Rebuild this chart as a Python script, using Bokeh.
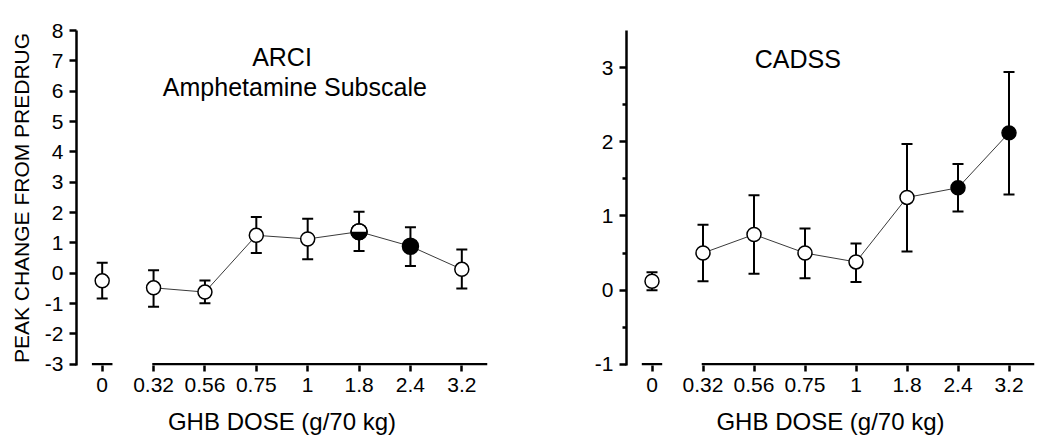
import numpy as np
from bokeh.plotting import figure
from bokeh.models import Range1d, FixedTicker
from bokeh.layouts import row
from bokeh.embed import file_html
from bokeh.resources import INLINE
from bokeh.core.properties import value

# ---------------- data ----------------
doses = ["0", "0.32", "0.56", "0.75", "1", "1.8", "2.4", "3.2"]

arci_mean = [-0.25, -0.48, -0.62, 1.25, 1.13, 1.37, 0.89, 0.13]
arci_upper = [0.35, 0.10, -0.24, 1.85, 1.80, 2.03, 1.52, 0.78]
arci_lower = [-0.83, -1.10, -0.99, 0.67, 0.46, 0.73, 0.24, -0.50]
arci_kind = ["open", "open", "open", "open", "open", "half", "filled", "open"]

cadss_mean = [0.12, 0.50, 0.75, 0.50, 0.38, 1.25, 1.38, 2.12]
cadss_upper = [0.24, 0.88, 1.28, 0.83, 0.63, 1.97, 1.70, 2.94]
cadss_lower = [0.00, 0.12, 0.22, 0.16, 0.11, 0.52, 1.06, 1.29]
cadss_kind = ["open", "open", "open", "open", "open", "open", "filled", "filled"]

arci_yticks = [-3, -2, -1, 0, 1, 2, 3, 4, 5, 6, 7, 8]
cadss_yticks = [-1, 0, 1, 2, 3]
cadss_yminor = [-0.5, 0.5, 1.5, 2.5]

y_label = "PEAK CHANGE FROM PREDRUG"
x_label = "GHB DOSE (g/70 kg)"

FONT = "Liberation Sans"


def make_panel(mean, upper, lower, kind, y0, y1, yticks, yminor, width,
               b_left, b_right, ylab, titles, big):
    p = figure(width=width, height=445,
               x_range=Range1d(-0.5, 7.5), y_range=Range1d(y0, y1),
               output_backend="svg", toolbar_location=None,
               min_border_left=b_left, min_border_right=b_right,
               min_border_top=30, min_border_bottom=80)
    p.outline_line_color = None
    p.grid.visible = False
    p.background_fill_color = "white"
    p.border_fill_color = "white"

    xs = list(range(len(doses)))
    ybase = yticks[0]

    # x axis: labels and ticks from bokeh, broken line drawn as segments
    xa = p.xaxis[0]
    xa.ticker = FixedTicker(ticks=xs)
    xa.major_label_overrides = {i: d for i, d in enumerate(doses)}
    xa.axis_line_color = None
    xa.major_tick_in = 0
    xa.major_tick_out = 6
    xa.major_tick_line_width = 2.5
    xa.minor_tick_line_color = None
    xa.major_label_standoff = 6
    xa.major_label_text_font = FONT
    xa.major_label_text_font_size = "21px"
    xa.major_label_text_color = "black"
    xa.axis_label = x_label
    xa.axis_label_text_font = FONT
    xa.axis_label_text_font_size = "24px"
    xa.axis_label_text_font_style = "normal"
    xa.axis_label_text_color = "black"
    xa.axis_label_standoff = 13
    p.segment(x0=[-0.2, 0.975], y0=[ybase, ybase], x1=[0.2, 7.5], y1=[ybase, ybase],
              line_color="black", line_width=2.5)

    ya = p.yaxis[0]
    ya.ticker = FixedTicker(ticks=yticks, minor_ticks=yminor)
    ya.major_label_overrides = {t: str(t) for t in yticks}
    ya.axis_line_width = 2.5
    ya.axis_line_color = "black"
    ya.major_tick_in = 0
    ya.major_tick_out = 7
    ya.major_tick_line_width = 2.5
    ya.minor_tick_in = 0
    ya.minor_tick_out = 4
    ya.minor_tick_line_width = 2.5
    if not yminor:
        ya.minor_tick_line_color = None
    ya.major_label_standoff = 6
    ya.major_label_text_font = FONT
    ya.major_label_text_font_size = "21px"
    ya.major_label_text_color = "black"
    if ylab:
        ya.axis_label = ylab
        ya.axis_label_text_font = FONT
        ya.axis_label_text_font_size = "21px"
        ya.axis_label_text_font_style = "normal"
        ya.axis_label_text_color = "black"
        ya.axis_label_standoff = 9

    # connecting line (doses > 0)
    p.line(xs[1:], mean[1:], line_color="#3a3a3a", line_width=1)

    # error bars
    p.segment(x0=xs, y0=lower, x1=xs, y1=upper, line_color="black", line_width=2)
    p.scatter(xs, upper, marker="dash", size=11, line_color="black", line_width=2)
    p.scatter(xs, lower, marker="dash", size=11, line_color="black", line_width=2)

    # markers
    ox = [x for x, k in zip(xs, kind) if k == "open"]
    oy = [m for m, k in zip(mean, kind) if k == "open"]
    fx = [x for x, k in zip(xs, kind) if k == "filled"]
    fy = [m for m, k in zip(mean, kind) if k == "filled"]
    hx = [x for x, k in zip(xs, kind) if k == "half"]
    hy = [m for m, k in zip(mean, kind) if k == "half"]
    p.scatter(ox, oy, size=14, fill_color="white", line_color="black", line_width=1.5)
    if fx:
        p.scatter(fx, fy, size=big, fill_color="black", line_color="black", line_width=1.5)
    if hx:
        p.scatter(hx, hy, size=big, fill_color="white", line_color="black", line_width=1.5)
        p.wedge(hx, hy, radius=big / 2, radius_units="screen",
                start_angle=np.pi, end_angle=2 * np.pi, direction="anticlock",
                fill_color="black", line_color=None)
        p.scatter(hx, hy, size=big, fill_color=None, line_color="black", line_width=1.5)

    for tx, ty, tt in titles:
        p.text(x=[tx], y=[ty], text=[tt], text_align="center",
               text_baseline="alphabetic", text_font=value(FONT),
               text_font_size="25px", text_color="black")
    return p


p1 = make_panel(arci_mean, arci_upper, arci_lower, arci_kind, -3.04, 8.0,
                arci_yticks, [], 568, 76, 81, y_label,
                [(3.5, 7.12, "ARCI"), (3.75, 6.14, "Amphetamine Subscale")], 16)
p2 = make_panel(cadss_mean, cadss_upper, cadss_lower, cadss_kind, -1.016, 3.5,
                cadss_yticks, cadss_yminor, 474, 58, 8, None,
                [(2.86, 3.11, "CADSS")], 14)

layout = row(p1, p2)
open("out.html", "w").write(file_html(layout, INLINE))
